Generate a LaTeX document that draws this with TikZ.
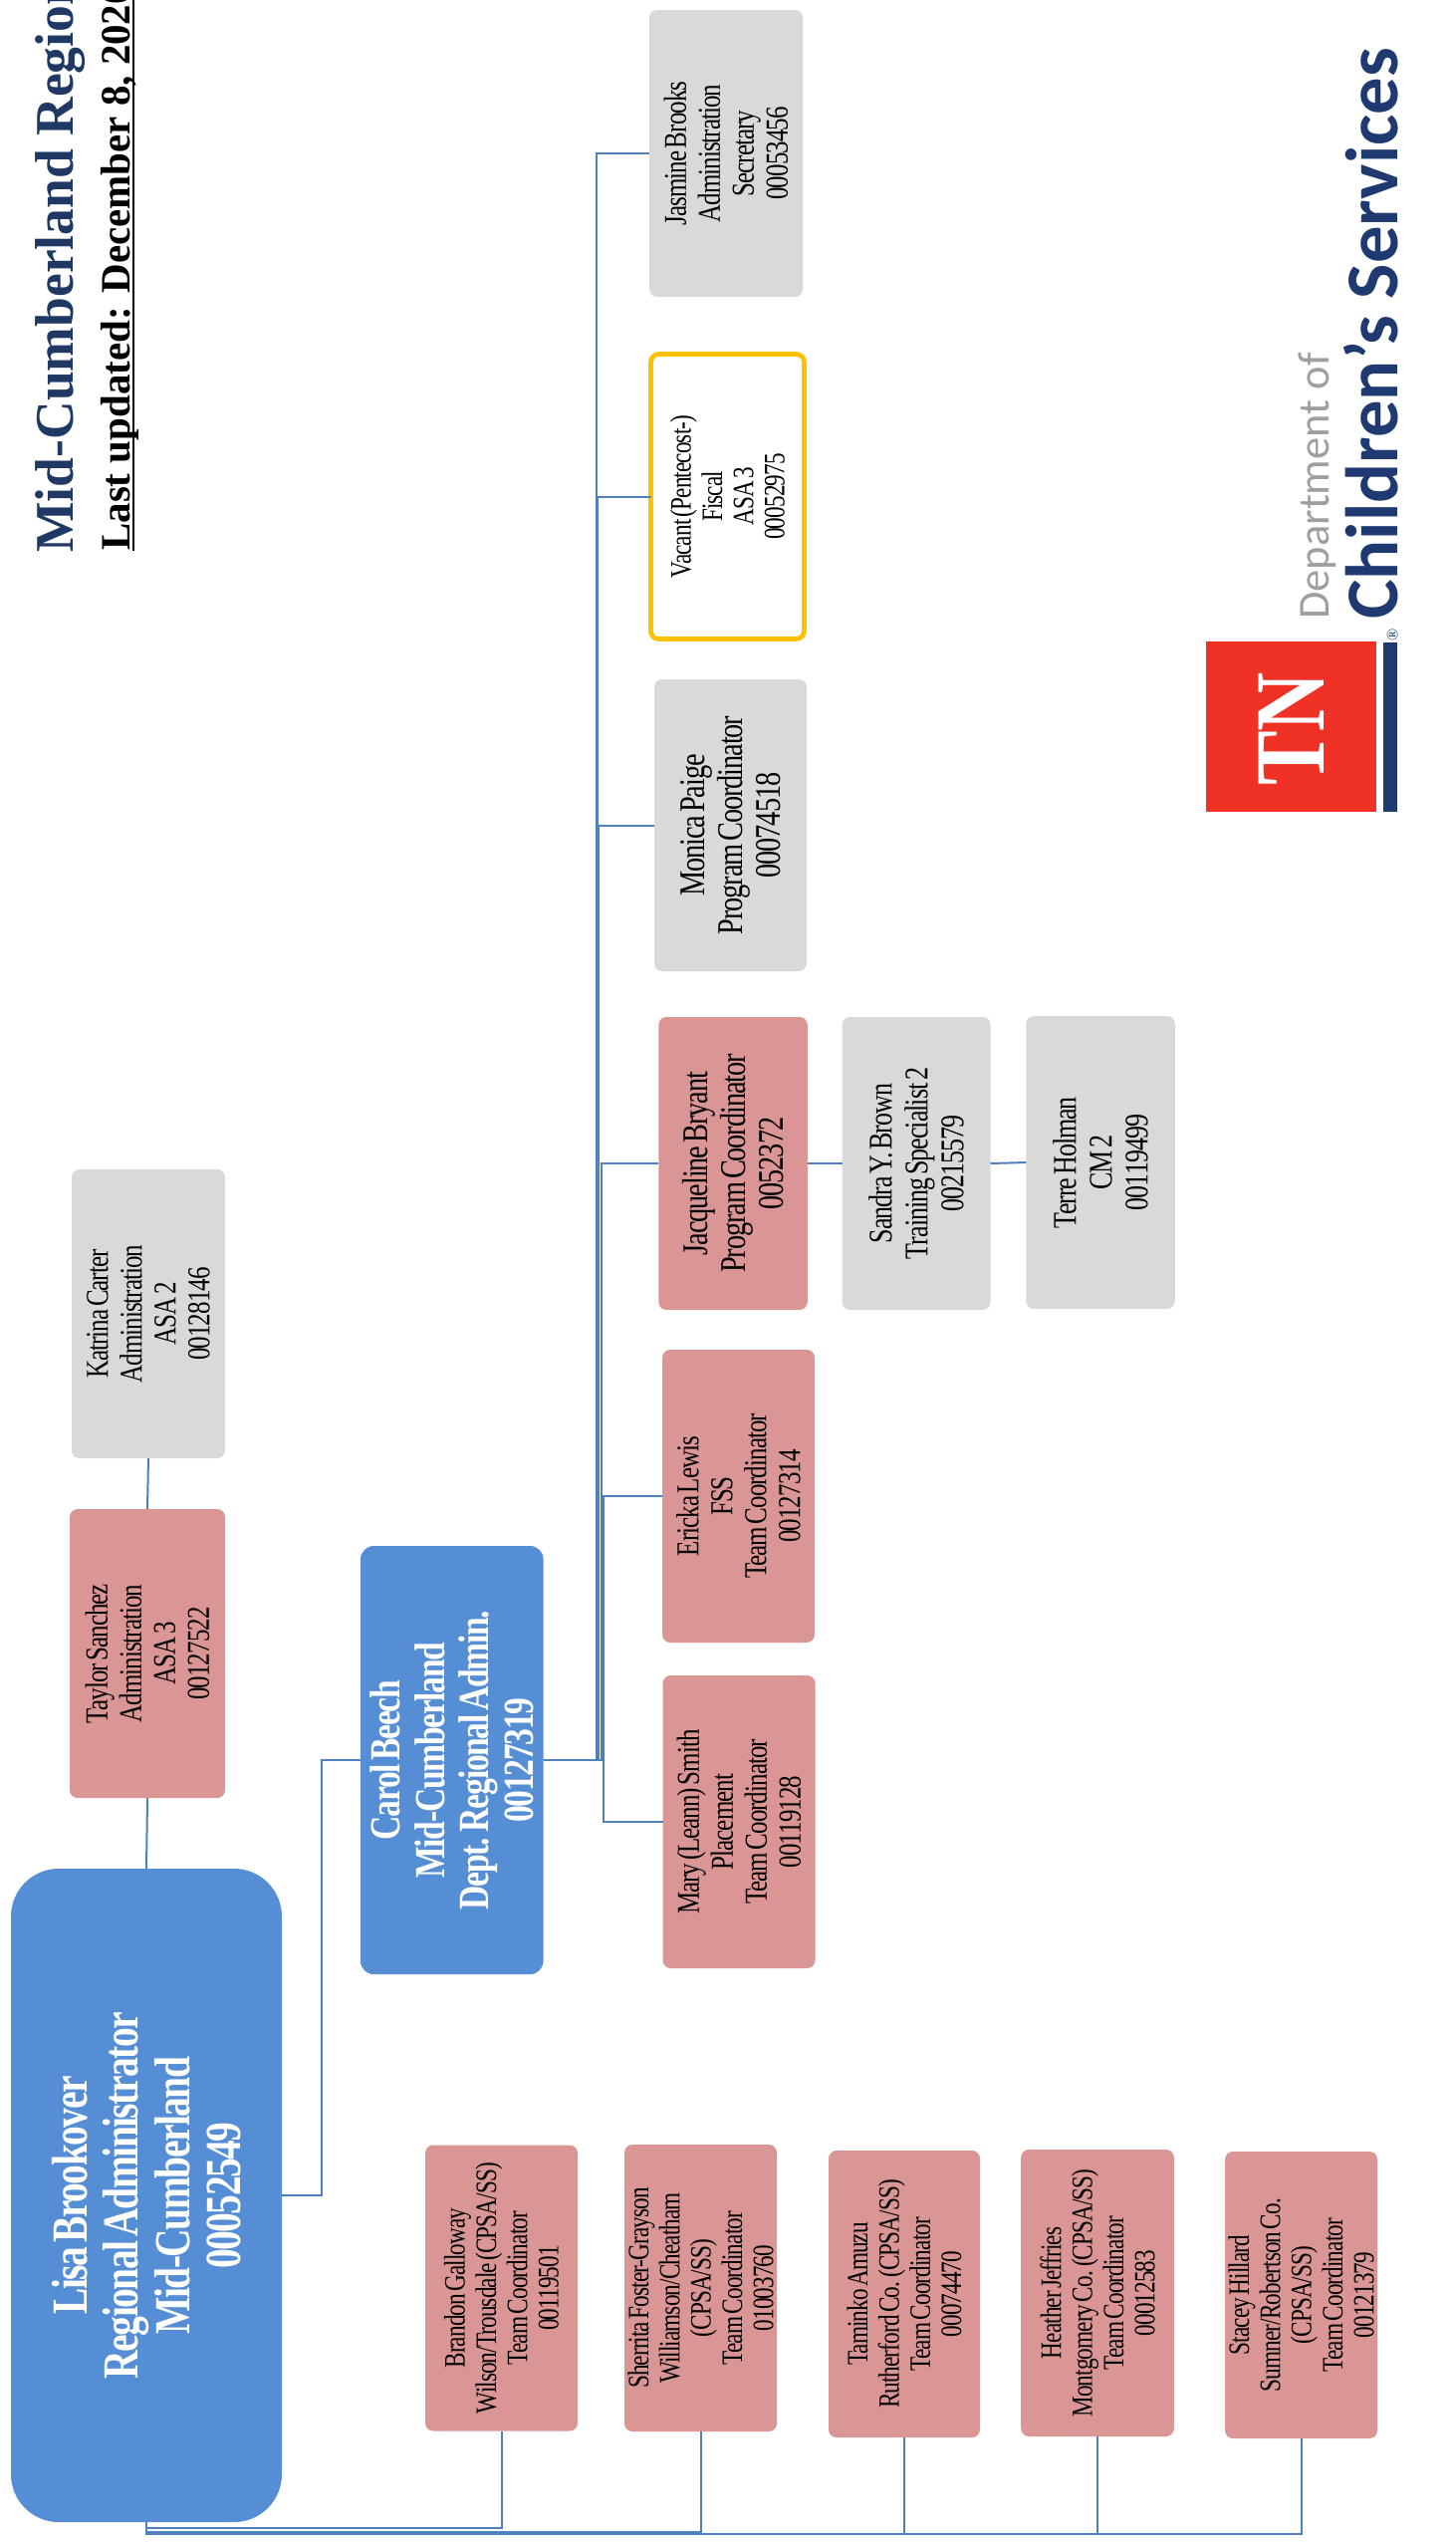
\documentclass[tikz,border=0pt]{standalone}
\usepackage{fontspec}
\setmainfont{Liberation Serif}
\newfontfamily\bxf[FakeStretch=0.78,LetterSpace=-3,WordSpace=0.5]{Liberation Serif}
\newfontfamily\ttlf[FakeStretch=0.98]{Liberation Serif}
\newfontfamily\ttlg[FakeStretch=0.975]{Liberation Serif}
\newfontfamily\ttlh{Liberation Serif}
\newfontfamily\logof{Carlito}
\definecolor{bluebox}{HTML}{558ED5}
\definecolor{pinkbox}{HTML}{D99694}
\definecolor{graybox}{HTML}{D9D9D9}
\definecolor{vacantline}{HTML}{FFC000}
\definecolor{linkblue}{HTML}{4F81BD}
\definecolor{titleblue}{HTML}{1F3864}
\definecolor{logoblue}{HTML}{1E3A70}
\definecolor{logored}{HTML}{F03226}
\tikzset{
  wh/.style 2 args={minimum width=#2*0.75pt,minimum height=#1*0.75pt},
  orgbox/.style={rotate=90,inner sep=0pt,outer sep=0pt,align=center,text=black,rounded corners=6pt},
  pinkb/.style={orgbox,fill=pinkbox},
  grayb/.style={orgbox,fill=graybox},
  fsA/.style={font={\bxf\fontsize{24}{25.5}\selectfont}},
  fsB/.style={font={\bxf\fontsize{25}{27}\selectfont}},
  fsC/.style={font={\bxf\fontsize{27.2}{28.5}\selectfont}},
  fsD/.style={font={\bxf\fontsize{22.3}{23.5}\selectfont}},
  link/.style={draw=linkblue,line width=1.5pt},
}
\begin{document}
\begin{tikzpicture}[x=0.75pt,y=-0.75pt]
\useasboundingbox (0,0) rectangle (1461,2553);
\clip (0,0) rectangle (1461,2553);
% title
\node[rotate=90,anchor=base west,inner sep=0pt,text=titleblue,font={\ttlf\bfseries\fontsize{41}{41}\selectfont}] (title) at (73,555) {Mid-Cumberland Region};
\node[rotate=90,anchor=base west,inner sep=0pt,text=black,font={\ttlg\bfseries\fontsize{31.5}{32}\selectfont}] (updated) at (130,553) {Last updated: December 8, 2020};
\coordinate (ulA) at (134,553);
\coordinate (ulB) at (134,0);
\draw[black,line width=1.2pt] (ulA) -- (ulB);
% boxes
\node[orgbox,fill=bluebox,text=white,wh={272}{656},rounded corners=36pt,font={\bxf\bfseries\fontsize{38}{38.5}\selectfont}] (lisa) at (147,2204) {Lisa Brookover\\Regional Administrator\\Mid-Cumberland\\00052549};
\node[orgbox,fill=bluebox,text=white,wh={183.6}{430},rounded corners=10pt,font={\bxf\bfseries\fontsize{32.3}{33.5}\selectfont}] (carol) at (453.8,1767) {Carol Beech\\Mid-Cumberland\\Dept. Regional Admin.\\00127319};
\node[pinkb,fsA,wh={156}{290}] (taylor) at (148,1660) {Taylor Sanchez\\Administration\\ASA 3\\00127522};
\node[grayb,fsA,wh={154}{290}] (katrina) at (149,1319) {Katrina Carter\\Administration\\ASA 2\\00128146};
\node[pinkb,fsA,wh={153}{294}] (mary) at (742,1829) {Mary (Leann) Smith\\Placement\\Team Coordinator\\00119128};
\node[pinkb,fsA,wh={153}{294}] (ericka) at (741.5,1502) {Ericka Lewis\\FSS\\Team Coordinator\\00127314};
\node[pinkb,fsC,wh={149.5}{294}] (jacq) at (736,1168) {Jacqueline Bryant\\Program Coordinator\\0052372};
\node[grayb,fsB,wh={149}{294}] (sandra) at (920,1168) {Sandra Y. Brown\\Training Specialist 2\\00215579};
\node[grayb,fsB,wh={149.5}{294}] (terre) at (1105,1167) {Terre Holman\\CM 2\\00119499};
\node[grayb,fsC,wh={153}{293}] (monica) at (733.5,828.5) {Monica Paige\\Program Coordinator\\00074518};
\node[orgbox,fill=white,draw=vacantline,line width=3.5pt,fsD,wh={154}{286}] (vacant) at (730.5,498.5) {Vacant (Pentecost-)\\Fiscal\\ASA 3\\00052975};
\node[grayb,fsA,wh={154}{288}] (jasmine) at (729,154) {Jasmine Brooks\\Administration\\Secretary\\00053456};
\node[pinkb,fsD,wh={153}{287}] (brandon) at (503.5,2297) {Brandon Galloway\\Wilson/Trousdale (CPSA/SS)\\Team Coordinator\\00119501};
\node[pinkb,fsD,wh={153}{288}] (sherrita) at (703.5,2297) {Sherrita Foster-Grayson\\Williamson/Cheatham\\(CPSA/SS)\\Team Coordinator\\01003760};
\node[pinkb,fsD,wh={152}{288}] (taminko) at (908,2303) {Taminko Amuzu\\Rutherford Co. (CPSA/SS)\\Team Coordinator\\00074470};
\node[pinkb,fsD,wh={153.6}{288}] (heather) at (1102,2302) {Heather Jeffries\\Montgomery Co. (CPSA/SS)\\Team Coordinator\\00012583};
\node[pinkb,fsD,wh={153}{288}] (stacey) at (1306.5,2304) {Stacey Hillard\\Sumner/Robertson Co.\\(CPSA/SS)\\Team Coordinator\\00121379};
% connectors
\draw[link] (lisa.east) -- (taylor.west);
\draw[link] (taylor.east) -- (katrina.west);
\draw[link] (lisa.south) -- ++(40,0) |- (carol.north);
\draw[link] (lisa.west) -- ++(0,6) -| (brandon.west);
\draw[link] (lisa.west) -- ++(0,9.7) -| (sherrita.west);
\draw[link] (lisa.west) -- ++(0,12) -| (taminko.west);
\draw[link] (lisa.west) -- ++(0,12) -| (heather.west);
\draw[link] (lisa.west) -- ++(0,12) -| (stacey.west);
\draw[link] (carol.south) -- ++(53.5,0) |- (jasmine.north);
\draw[link] (carol.south) -- ++(54.5,0) |- (vacant.north);
\draw[link] (carol.south) -- ++(55.5,0) |- (monica.north);
\draw[link] (carol.south) -- ++(58,0) |- (jacq.north);
\draw[link] (carol.south) -- ++(60,0) |- (ericka.north);
\draw[link] (carol.south) -- ++(60,0) |- (mary.north);
\draw[link] (jacq.south) -- (sandra.north);
\draw[link] (sandra.south) -- (terre.north);
% logo
\node[rotate=90,anchor=base west,inner sep=0pt,text=gray!75,font={\logof\fontsize{33.4}{34}\selectfont}] (dept) at (1334,622) {Department of};
\node[rotate=90,anchor=base west,inner sep=0pt,text=logoblue,font={\logof\bfseries\fontsize{56}{56}\selectfont}] (cs) at (1403,622) {Children’s Services};
\node[rotate=90,inner sep=0pt,outer sep=0pt,fill=logored,minimum width=171*0.75pt,minimum height=171*0.75pt] (tnred) at (1296.5,729.5) {};
\node[rotate=90,inner sep=0pt,outer sep=0pt,fill=logoblue,minimum width=170*0.75pt,minimum height=14*0.75pt] (tnbar) at (1396,730) {};
\node[rotate=90,text=white,inner sep=0pt,font={\ttlh\bfseries\fontsize{75}{75}\selectfont}] (tn) at (1297,732) {\scalebox{0.82}[1]{TN}};
\node[rotate=90,text=logoblue,inner sep=0pt,font={\ttlh\fontsize{12}{12}\selectfont}] (reg) at (1398,637) {®};
\end{tikzpicture}
\end{document}
